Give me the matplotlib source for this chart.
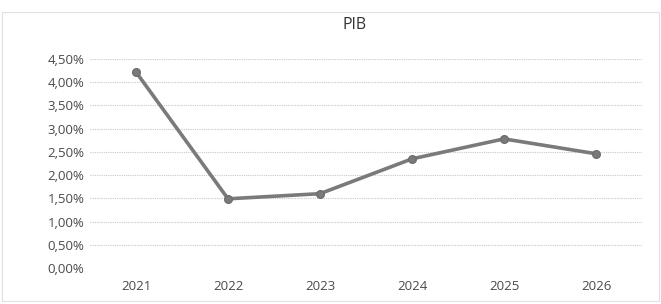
import matplotlib
matplotlib.use("Agg")
import matplotlib.pyplot as plt
from matplotlib.ticker import FuncFormatter, MultipleLocator
from matplotlib.patches import Rectangle

years = ["2021", "2022", "2023", "2024", "2025", "2026"]
pib = [4.22, 1.49, 1.60, 2.35, 2.78, 2.46]

plt.rcParams['font.family'] = ['Open Sans', 'DejaVu Sans']

fig = plt.figure(figsize=(6.61, 3.04), dpi=100)
ax = fig.add_axes([90/661, 1-268/304, (642-90)/661, (268-59)/304])

x = list(range(len(years)))
ax.plot(x, pib, color='#7a7a7a', linewidth=2.6, marker='o', markersize=5.5,
        markerfacecolor='#7a7a7a', markeredgecolor='#6e6e6e', zorder=3)

ax.set_xlim(-0.5, len(years) - 0.5)
ax.set_ylim(0, 4.5)
ax.yaxis.set_major_locator(MultipleLocator(0.5))
ax.yaxis.set_major_formatter(FuncFormatter(lambda v, p: f"{v:.2f}%".replace('.', ',')))
ax.set_xticks(x)
ax.set_xticklabels(years)
ax.tick_params(axis='both', length=0, labelsize=9.5, colors='#4a4a4a')
ax.tick_params(axis='x', pad=9)
ax.tick_params(axis='y', pad=4)
ax.grid(axis='y', color='#c8c8c8', linestyle=(0, (1, 1)), linewidth=0.8)
for s in ax.spines.values():
    s.set_visible(False)

fig.text(355/661, 1-25/304, "PIB", ha='center', va='center', fontsize=11.5, color='#333333')
fig.patches.append(Rectangle((0.003, 0.01), 0.994, 0.95, transform=fig.transFigure,
                             fill=False, edgecolor='#e0e0e0', linewidth=0.8))

fig.savefig("out.png", dpi=100)
